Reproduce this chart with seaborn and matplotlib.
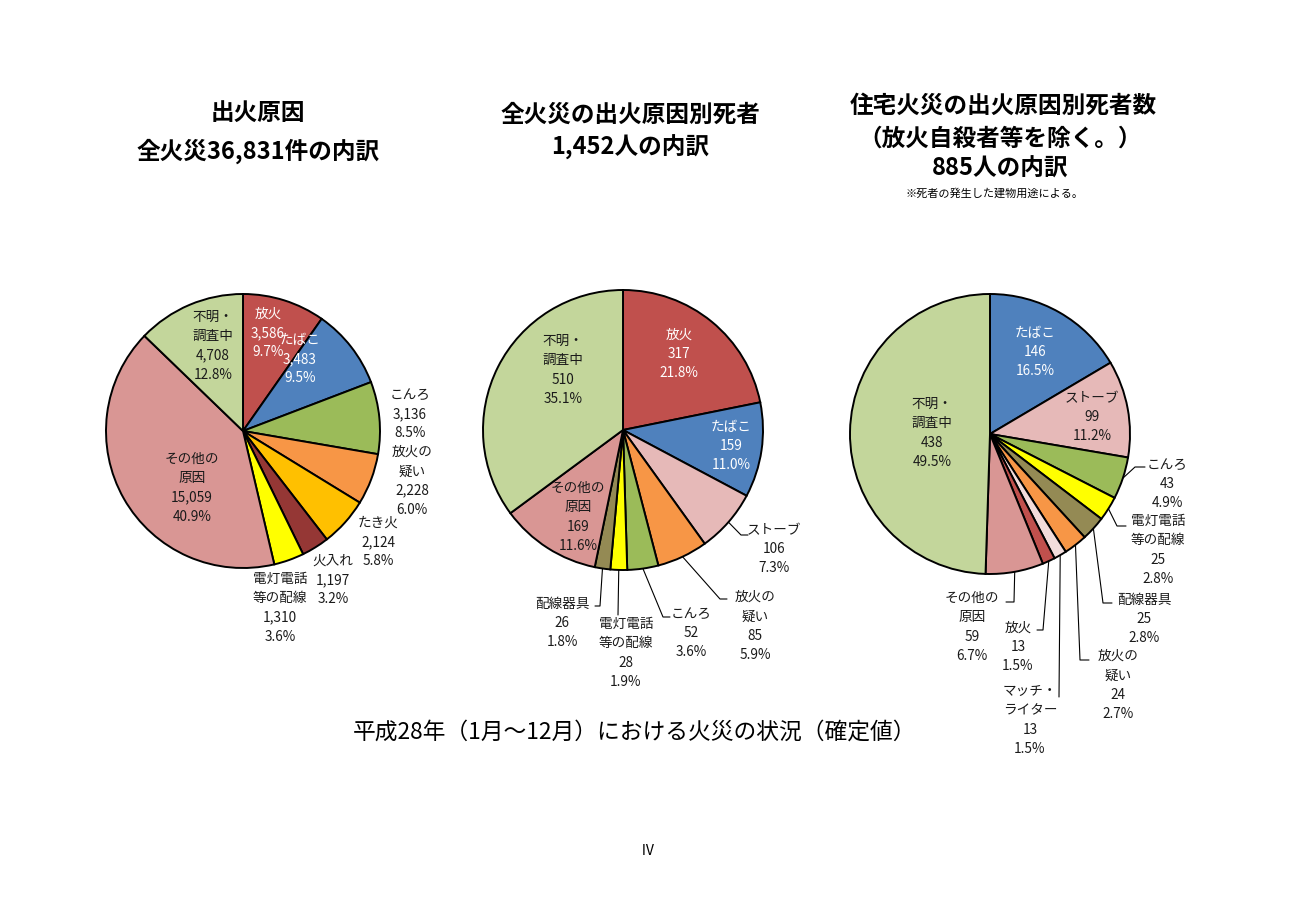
"""
平成28年 火災の状況 円グラフ
"""

import matplotlib
matplotlib.use('Agg')
import matplotlib.pyplot as plt
import seaborn as sns
import numpy as np

W, H = 1299, 918

RED, BLUE, GREEN, ORANGE = '#C0504D', '#4F81BD', '#9BBB59', '#F79646'
GOLD, DARKRED, YELLOW, ROSE = '#FFC000', '#953735', '#FFFF00', '#D99694'
LGREEN, PINK, OLIVE, PALE = '#C3D69B', '#E6B9B8', '#948A54', '#F2DCDB'

# 全火災の出火原因（件）
causes1 = ['放火', 'たばこ', 'こんろ', '放火の\n疑い', 'たき火', '火入れ',
           '電灯電話\n等の配線', 'その他の\n原因', '不明・\n調査中']
counts1 = [3586, 3483, 3136, 2228, 2124, 1197, 1310, 15059, 4708]
pcts1 = ['9.7%', '9.5%', '8.5%', '6.0%', '5.8%', '3.2%', '3.6%', '40.9%', '12.8%']
colors1 = [RED, BLUE, GREEN, ORANGE, GOLD, DARKRED, YELLOW, ROSE, LGREEN]

# 全火災の出火原因別死者（人）
causes2 = ['放火', 'たばこ', 'ストーブ', '放火の\n疑い', 'こんろ', '電灯電話\n等の配線',
           '配線器具', 'その他の\n原因', '不明・\n調査中']
counts2 = [317, 159, 106, 85, 52, 28, 26, 169, 510]
pcts2 = ['21.8%', '11.0%', '7.3%', '5.9%', '3.6%', '1.9%', '1.8%', '11.6%', '35.1%']
colors2 = [RED, BLUE, PINK, ORANGE, GREEN, YELLOW, OLIVE, ROSE, LGREEN]

# 住宅火災の出火原因別死者（人）
causes3 = ['たばこ', 'ストーブ', 'こんろ', '電灯電話\n等の配線', '配線器具', '放火の\n疑い',
           'マッチ・\nライター', '放火', 'その他の\n原因', '不明・\n調査中']
counts3 = [146, 99, 43, 25, 25, 24, 13, 13, 59, 438]
pcts3 = ['16.5%', '11.2%', '4.9%', '2.8%', '2.8%', '2.7%', '1.5%', '1.5%', '6.7%', '49.5%']
colors3 = [BLUE, PINK, GREEN, YELLOW, OLIVE, ORANGE, PALE, RED, ROSE, LGREEN]

# レイアウト（画像ピクセル座標）
pos1 = [(268, 333), (300, 359), (410, 414), (412, 481), (378, 542), (333, 580),
        (280, 608), (192, 488), (213, 346)]
lead1 = [None] * 9
pos2 = [(679, 354), (731, 446), (774, 549), (755, 626), (691, 633), (626, 653),
        (562, 623), (578, 517), (563, 370)]
lead2 = [None, None, [(741, 535), (748, 535)], [(720, 599), (727, 599)],
         [(663, 617), (670, 617)], [(618, 615)], [(600, 606), (595, 606)], None, None]
pos3 = [(1035, 352), (1092, 417), (1167, 484), (1158, 550), (1144, 619), (1118, 685),
        (1030, 720), (1018, 647), (972, 627), (932, 433)]
lead3 = [None, None, [(1135, 467), (1145, 467)], [(1117, 526), (1126, 526)],
         [(1103, 603), (1112, 603)], [(1080, 660), (1089, 660)], [(1059, 697)],
         [(1043, 630), (1037, 630)], [(1014, 602), (1006, 602)], None]

sns.set_theme(style='white')
plt.rcParams['font.family'] = ['Noto Sans CJK JP', 'DejaVu Sans']

fig = plt.figure(figsize=(W / 100, H / 100), dpi=100)
ax = fig.add_axes([0, 0, 1, 1])


def draw_pie(values, names, pcts, colors, center, radius, text_pos, leaders):
    # y軸を反転しているので startangle=-90 / counterclock=True で上から時計回り
    wedges, _ = ax.pie(values, colors=colors, startangle=-90, counterclock=True,
                       center=center, radius=radius,
                       wedgeprops=dict(edgecolor='black', linewidth=1.4))
    for w, name, v, p, c, (tx, ty), ld in zip(wedges, names, values, pcts, colors,
                                              text_pos, leaders):
        inside = np.hypot(tx - center[0], ty - center[1]) < radius
        tc = 'white' if inside and c in (RED, BLUE) else '#1a1a1a'
        ax.text(tx, ty, f'{name}\n{v:,}\n{p}', ha='center', va='center',
                fontsize=9.8, color=tc, linespacing=1.48)
        if ld:
            mid = np.deg2rad((w.theta1 + w.theta2) / 2)
            xs = [center[0] + radius * np.cos(mid)] + [q[0] for q in ld]
            ys = [center[1] + radius * np.sin(mid)] + [q[1] for q in ld]
            ax.plot(xs, ys, color='black', lw=0.8)


draw_pie(counts1, causes1, pcts1, colors1, (243, 431), 137, pos1, lead1)
draw_pie(counts2, causes2, pcts2, colors2, (623, 430), 140, pos2, lead2)
draw_pie(counts3, causes3, pcts3, colors3, (990, 434), 140, pos3, lead3)

title_kw = dict(ha='center', va='center', fontsize=17, fontweight='bold', color='black')
ax.text(258, 113, '出火原因', **title_kw)
ax.text(258, 151, f'全火災{sum(counts1):,}件の内訳', **title_kw)
ax.text(630, 115, '全火災の出火原因別死者', **title_kw)
ax.text(630, 147, f'{sum(counts2):,}人の内訳', **title_kw)
ax.text(1003, 106, '住宅火災の出火原因別死者数', **title_kw)
ax.text(1000, 139, '（放火自殺者等を除く。）', **title_kw)
ax.text(1000, 169, f'{sum(counts3):,}人の内訳', **title_kw)
ax.text(995, 193, '※死者の発生した建物用途による。', ha='center', va='center',
        fontsize=8, color='black')

ax.text(635, 732, '平成28年（1月～12月）における火災の状況（確定値）',
        ha='center', va='center', fontsize=16.4, color='black')
ax.text(648, 851, 'Ⅳ', ha='center', va='center', fontsize=10, color='black')

ax.set_xlim(0, W)
ax.set_ylim(H, 0)
ax.axis('off')

plt.savefig('out.png', dpi=100)
plt.close()
